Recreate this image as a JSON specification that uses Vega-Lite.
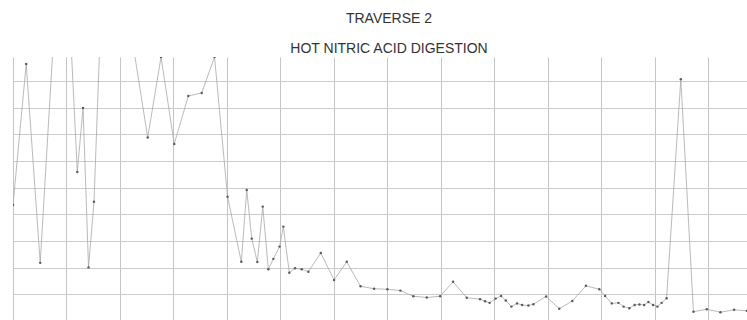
{
  "$schema": "https://vega.github.io/schema/vega-lite/v6.json",
  "width": 734,
  "height": 264,
  "autosize": {"type": "none"},
  "padding": {"left": 13, "top": 57, "right": 0, "bottom": 0},
  "background": "white",
  "title": {
    "text": "TRAVERSE 2",
    "subtitle": "HOT NITRIC ACID DIGESTION",
    "font": "Liberation Sans",
    "fontSize": 14,
    "fontWeight": "normal",
    "subtitleFont": "Liberation Sans",
    "subtitleFontSize": 14,
    "color": "#333333",
    "subtitleColor": "#333333",
    "anchor": "middle",
    "dx": 9,
    "offset": 1,
    "subtitlePadding": 16
  },
  "data": {
    "values": [
      {"d": 0.0, "v": 43.5},
      {"d": 2.47, "v": 96.4},
      {"d": 5.09, "v": 21.8},
      {"d": 9.35, "v": 165.8},
      {"d": 12.03, "v": 55.9},
      {"d": 13.1, "v": 79.9},
      {"d": 14.13, "v": 20.1},
      {"d": 15.15, "v": 44.7},
      {"d": 17.4, "v": 167.7},
      {"d": 25.2, "v": 68.8},
      {"d": 27.69, "v": 99.0},
      {"d": 30.16, "v": 66.4},
      {"d": 32.8, "v": 84.4},
      {"d": 35.3, "v": 85.5},
      {"d": 37.7, "v": 99.0},
      {"d": 40.13, "v": 46.6},
      {"d": 42.71, "v": 22.2},
      {"d": 43.72, "v": 49.1},
      {"d": 44.66, "v": 30.9},
      {"d": 45.71, "v": 22.1},
      {"d": 46.72, "v": 42.9},
      {"d": 47.76, "v": 19.4},
      {"d": 48.7, "v": 23.3},
      {"d": 49.86, "v": 27.9},
      {"d": 50.57, "v": 35.4},
      {"d": 51.69, "v": 18.1},
      {"d": 52.76, "v": 19.8},
      {"d": 54.01, "v": 19.4},
      {"d": 55.25, "v": 18.5},
      {"d": 57.57, "v": 25.5},
      {"d": 60.06, "v": 15.4},
      {"d": 62.43, "v": 22.2},
      {"d": 65.01, "v": 13.0},
      {"d": 67.54, "v": 12.1},
      {"d": 70.03, "v": 11.9},
      {"d": 72.46, "v": 11.4},
      {"d": 74.89, "v": 9.3},
      {"d": 77.4, "v": 8.8},
      {"d": 79.89, "v": 9.3},
      {"d": 82.32, "v": 14.7},
      {"d": 84.88, "v": 8.7},
      {"d": 87.37, "v": 8.2},
      {"d": 88.31, "v": 7.4},
      {"d": 89.15, "v": 6.8},
      {"d": 90.27, "v": 8.4},
      {"d": 91.3, "v": 9.4},
      {"d": 92.18, "v": 7.7},
      {"d": 93.23, "v": 5.4},
      {"d": 94.29, "v": 6.6},
      {"d": 95.23, "v": 6.0},
      {"d": 96.41, "v": 5.8},
      {"d": 97.34, "v": 6.3},
      {"d": 99.72, "v": 9.2},
      {"d": 102.19, "v": 4.6},
      {"d": 104.62, "v": 7.5},
      {"d": 107.17, "v": 13.2},
      {"d": 109.67, "v": 11.9},
      {"d": 110.76, "v": 9.4},
      {"d": 112.01, "v": 6.6},
      {"d": 113.25, "v": 6.8},
      {"d": 114.22, "v": 5.4},
      {"d": 115.3, "v": 4.8},
      {"d": 116.28, "v": 6.0},
      {"d": 117.18, "v": 6.2},
      {"d": 118.06, "v": 6.0},
      {"d": 118.86, "v": 7.1},
      {"d": 119.74, "v": 6.0},
      {"d": 120.54, "v": 5.4},
      {"d": 121.33, "v": 6.8},
      {"d": 122.26, "v": 8.5},
      {"d": 124.92, "v": 90.7},
      {"d": 127.28, "v": 3.5},
      {"d": 129.78, "v": 4.4},
      {"d": 132.33, "v": 3.3},
      {"d": 134.89, "v": 4.2},
      {"d": 137.27, "v": 3.8}
    ]
  },
  "encoding": {
    "x": {
      "field": "d",
      "type": "quantitative",
      "scale": {"domain": [0, 137.3], "nice": false, "zero": false},
      "axis": {
        "title": null,
        "grid": true,
        "values": [0, 10, 20, 30, 40, 50, 60, 70, 80, 90, 100, 110, 120, 130],
        "labels": false,
        "ticks": false,
        "domain": false,
        "gridColor": "#c4c4c4",
        "gridWidth": 1
      }
    },
    "y": {
      "field": "v",
      "type": "quantitative",
      "scale": {"domain": [0, 99], "nice": false, "zero": false},
      "axis": {
        "title": null,
        "grid": true,
        "values": [10, 20, 30, 40, 50, 60, 70, 80, 90],
        "labels": false,
        "ticks": false,
        "domain": false,
        "gridColor": "#cccccc",
        "gridWidth": 1
      }
    }
  },
  "layer": [
    {"mark": {"type": "line", "color": "#a8a8a8", "strokeWidth": 0.8, "clip": true}},
    {"mark": {"type": "point", "filled": true, "color": "#5a5a5a", "size": 6, "opacity": 1, "clip": true}}
  ],
  "config": {"view": {"stroke": null}}
}
